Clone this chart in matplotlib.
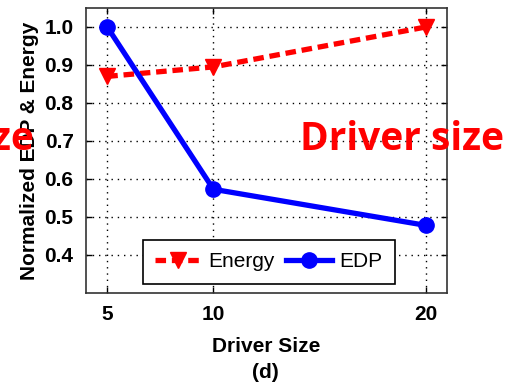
import matplotlib
matplotlib.use("Agg")
import matplotlib.pyplot as plt

plt.rcParams["font.family"] = ["Liberation Sans", "DejaVu Sans"]
plt.rcParams["font.weight"] = "bold"
plt.rcParams["axes.labelweight"] = "bold"

driver_size = [5, 10, 20]
energy = [0.87, 0.895, 1.0]
edp = [1.0, 0.573, 0.478]
yticks = [0.4, 0.5, 0.6, 0.7, 0.8, 0.9, 1.0]

fig = plt.figure(figsize=(5.25, 3.85), dpi=100)
ax = fig.add_axes([86 / 525, 1 - 293 / 385, (447 - 86) / 525, (293 - 8) / 385])

ax.plot(driver_size, energy, color="red", linestyle="--", dashes=(2.0, 1.1),
        linewidth=3.8, marker="v", markersize=11, label="Energy")
ax.plot(driver_size, edp, color="blue", linestyle="-", linewidth=3.8,
        marker="o", markersize=11, label="EDP")

ax.set_xlim(4, 21)
ax.set_ylim(0.3, 1.05)
ax.set_xticks(driver_size)
ax.set_yticks(yticks)
ax.set_yticklabels(["%.1f" % v for v in yticks])
ax.tick_params(direction="in", top=True, right=True, labelsize=15, length=4,
               width=1, pad=9)
ax.grid(True, linestyle=(0, (1, 3.5)), color="black", linewidth=1)
for s in ax.spines.values():
    s.set_linewidth(1.2)
    s.set_color("#333333")

ax.set_ylabel("Normalized EDP & Energy", fontsize=15, labelpad=4)
ax.set_xlabel("Driver Size", fontsize=15, labelpad=9)

leg = ax.legend(loc="lower center", bbox_to_anchor=(0.506, 0.032), ncol=2,
                prop={"size": 15, "weight": "normal"}, frameon=True,
                fancybox=False, handlelength=2.2, columnspacing=0.55,
                handletextpad=0.35, borderpad=0.6, borderaxespad=0,
                edgecolor="black", framealpha=1)
leg.get_frame().set_linewidth(1.2)

fig.text(265 / 525, 1 - 373 / 385, "(d)", fontsize=15, ha="center",
         va="center")

# overlaid slide captions
fig.text(-0.015, 1 - 140 / 385, "ze", color="red", fontsize=28,
         fontfamily="Open Sans", fontweight="bold", ha="left", va="center")
fig.text(300 / 525, 1 - 140 / 385, "Driver size", color="red", fontsize=28,
         fontfamily="Open Sans", fontweight="bold", ha="left", va="center")

fig.savefig("out.png", dpi=100)
